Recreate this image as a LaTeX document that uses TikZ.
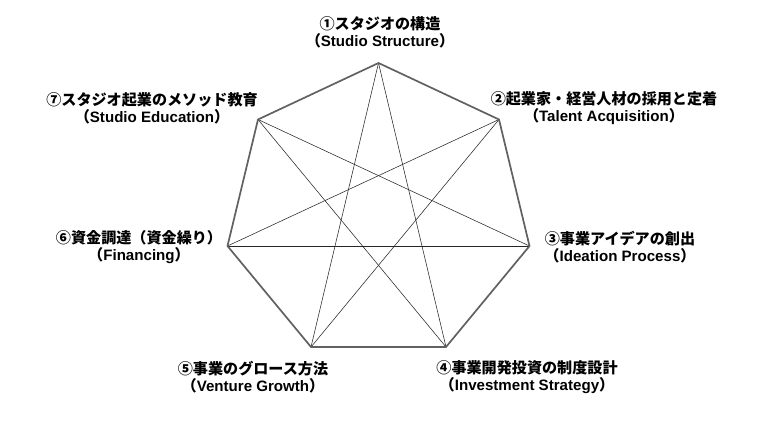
\documentclass[tikz,border=0pt]{standalone}
\usepackage{fontspec}
\setmainfont{Noto Sans CJK JP}
\newfontfamily\enfont{Liberation Sans}
\newcommand{\en}[1]{{\enfont #1}}
\usetikzlibrary{positioning}

\begin{document}
\begin{tikzpicture}[
  x=1pt, y=-1pt,
  rim/.style={draw=black!62, line width=1.7pt, line join=miter},
  chord/.style={draw=black!85, line width=0.55pt},
  lbl/.style={align=center, inner sep=0pt, font=\fontsize{15.1}{17}\selectfont\bfseries}
]
\useasboundingbox (0,0) rectangle (770,428);

% corners of the heptagon
\coordinate (v1) at (378.5,63);
\coordinate (v2) at (499,119.5);
\coordinate (v3) at (529.5,246);
\coordinate (v4) at (446,347);
\coordinate (v5) at (311,347);
\coordinate (v6) at (227.5,246);
\coordinate (v7) at (258,119.5);

% texts
\node[lbl] (t1) at (380,32) {①スタジオの構造\\（\en{Studio Structure}）};
\node[lbl] (t2) at (604,108) {②起業家・経営人材の採用と定着\\（\en{Talent Acquisition}）};
\node[lbl] (t3) at (620,247.5) {③事業アイデアの創出\\（\en{Ideation Process}）};
\node[lbl] (t4) at (527,377.5) {④事業開発投資の制度設計\\（\en{Investment Strategy}）};
\node[lbl] (t5) at (253,377.5) {⑤事業のグロース方法\\（\en{Venture Growth}）};
\node[lbl] (t6) at (139,247.5) {⑥資金調達（資金繰り）\\（\en{Financing}）};
\node[lbl] (t7) at (152,108) {⑦スタジオ起業のメソッド教育\\（\en{Studio Education}）};

\foreach \a/\b in {v1/v4,v4/v7,v7/v3,v3/v6,v6/v2,v2/v5,v5/v1}{\draw[chord] (\a) -- (\b);}
\draw[rim] (v1) -- (v2) -- (v3) -- (v4) -- (v5) -- (v6) -- (v7) -- cycle;
\end{tikzpicture}
\end{document}
